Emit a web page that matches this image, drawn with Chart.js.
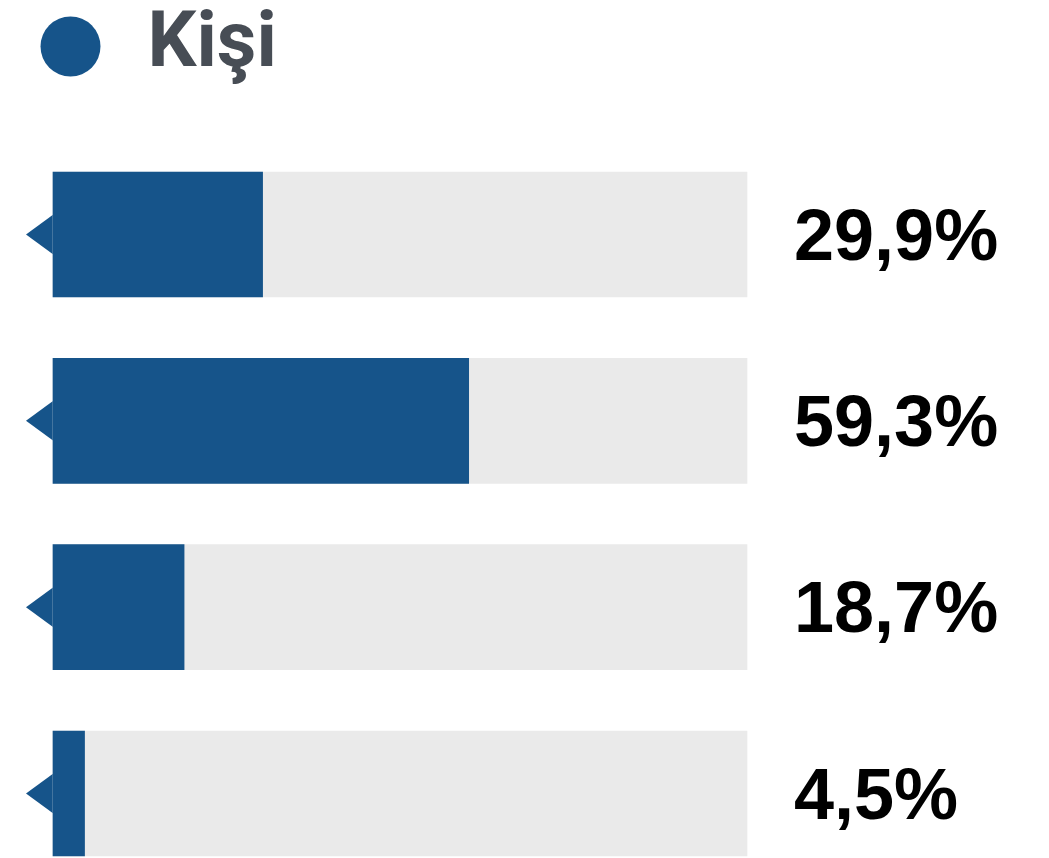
<!DOCTYPE html>
<html>
<head>
<meta charset="utf-8">
<title>Kişi</title>
<script src="https://cdn.jsdelivr.net/npm/chart.js@4/dist/chart.umd.min.js"></script>
<style>
    html, body { margin: 0; padding: 0; background: #ffffff; overflow: hidden; }
    #wrap { width: 1049px; height: 858px; position: relative; }
</style>
</head>
<body>
<div id="wrap"><canvas id="chart"></canvas></div>
<script>
// ============================================
// Data
// ============================================
const categories = ['1', '2', '3', '4'];
const seriesName = 'Kişi';
const values = [29.9, 59.3, 18.7, 4.5];
const scaleMax = 99;
const trackValues = [99, 99, 99, 99];

const BLUE = '#16548a';
const TRACK = '#eaeaea';

function formatPercent(v) {
    return v.toFixed(1).replace('.', ',') + '%';
}

// ============================================
// Plugins: left arrow + value labels
// ============================================
const markerPlugin = {
    id: 'markers',
    beforeDatasetsDraw(chart) {
        const ctx = chart.ctx;
        const x = chart.scales.x;
        const y = chart.scales.y;
        const x0 = x.getPixelForValue(0);
        ctx.save();
        ctx.fillStyle = BLUE;
        values.forEach(function(v, i) {
            const cy = y.getPixelForValue(i);
            ctx.beginPath();
            ctx.moveTo(x0 + 1, cy - 20.5);
            ctx.lineTo(x0 - 27, cy);
            ctx.lineTo(x0 + 1, cy + 20.5);
            ctx.closePath();
            ctx.fill();
        });
        ctx.restore();
    },
    afterDatasetsDraw(chart) {
        const ctx = chart.ctx;
        const x = chart.scales.x;
        const y = chart.scales.y;
        ctx.save();
        ctx.fillStyle = '#000000';
        ctx.font = 'bold 72px "Liberation Sans", Arial, sans-serif';
        ctx.textAlign = 'left';
        ctx.textBaseline = 'alphabetic';
        values.forEach(function(v, i) {
            const cy = y.getPixelForValue(i);
            ctx.fillText(formatPercent(v), x.right + 47, cy + 25);
        });
        ctx.restore();
    }
};

// ============================================
// Chart
// ============================================
new Chart(document.getElementById('chart'), {
    type: 'bar',
    data: {
        labels: categories,
        datasets: [{
            label: seriesName,
            data: values,
            backgroundColor: BLUE,
            barThickness: 125,
            grouped: false,
            clip: false
        }, {
            label: 'track',
            data: trackValues,
            backgroundColor: TRACK,
            barThickness: 125,
            grouped: false,
            clip: false
        }]
    },
    options: {
        indexAxis: 'y',
        responsive: true,
        maintainAspectRatio: false,
        animation: false,
        layout: {
            padding: { left: 24, top: 0, right: 302, bottom: 64.5 }
        },
        plugins: {
            tooltip: { enabled: false },
            legend: {
                position: 'top',
                align: 'start',
                labels: {
                    usePointStyle: true,
                    pointStyle: 'circle',
                    boxWidth: 77,
                    boxHeight: 42.4,
                    padding: 8,
                    color: '#474d55',
                    font: { family: 'Roboto', size: 77, weight: 'bold' },
                    filter: function(item) { return item.datasetIndex === 0; }
                }
            }
        },
        scales: {
            x: {
                type: 'linear',
                position: 'top',
                min: 0,
                max: scaleMax,
                ticks: { display: false },
                grid: { display: false },
                border: { display: false },
                afterFit: function(scale) { scale.height = 139.5; }
            },
            y: {
                type: 'category',
                offset: false,
                ticks: { display: false },
                grid: { display: false },
                border: { display: false },
                afterFit: function(scale) { scale.width = 29; }
            }
        }
    },
    plugins: [markerPlugin]
});
</script>
</body>
</html>
